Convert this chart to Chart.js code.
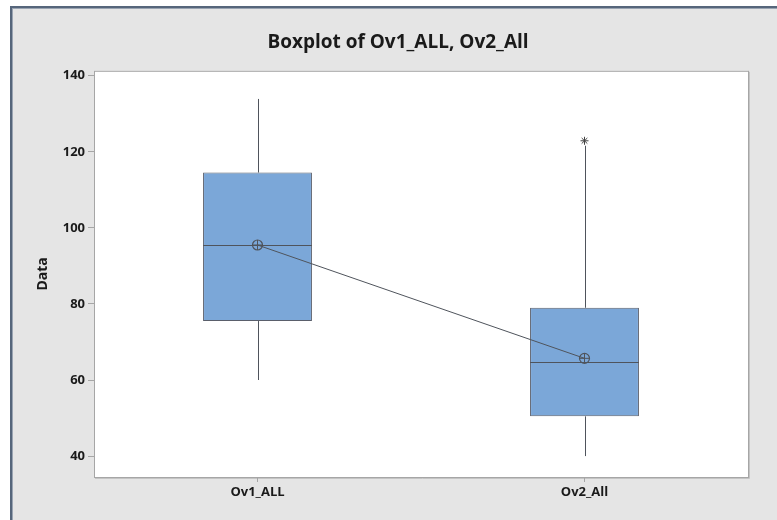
<!DOCTYPE html>
<html>
<head>
<meta charset="utf-8">
<script src="https://cdn.jsdelivr.net/npm/chart.js@4"></script>
<style>
html,body{margin:0;padding:0;background:#ffffff;overflow:hidden;width:777px;height:520px;}
#frame{position:absolute;left:10px;top:6px;width:780px;height:520px;border-left:2px solid #56667b;border-top:2px solid #56667b;}
#inner{position:absolute;left:0;top:0;width:778px;height:518px;border-left:1px solid #9aa4b2;border-top:1px solid #9aa4b2;background:#e5e5e5;}
#c{position:absolute;left:0;top:0;}
</style>
</head>
<body>
<div id="frame"><div id="inner"><canvas id="c" width="770" height="511"></canvas></div></div>
<script>
const categories = ['Ov1_ALL', 'Ov2_All'];
const whiskerLow = [60.0, 40.0];
const q1 = [75.5, 50.45];
const median = [95.5, 64.7];
const q3 = [114.55, 79.0];
const whiskerHigh = [133.9, 121.6];
const means = [95.5, 65.7];
const outliers = [null, 122.9];
const yTicks = [40, 60, 80, 100, 120, 140];
const yMin = 34.5, yMax = 141.3;

const FONT = "'Open Sans', 'Noto Sans', sans-serif";
const LINE = '#4f545c';

const bgPlugin = {
  id: 'bg',
  beforeDraw(chart) {
    const {ctx, chartArea: a} = chart;
    ctx.save();
    ctx.fillStyle = '#e5e5e5';
    ctx.fillRect(0, 0, chart.width, chart.height);
    ctx.fillStyle = '#ffffff';
    ctx.fillRect(a.left, a.top, a.right - a.left, a.bottom - a.top);
    ctx.strokeStyle = '#c4c4c4';
    ctx.lineWidth = 1;
    ctx.beginPath();
    ctx.moveTo(a.right + 1.5, a.top + 1);
    ctx.lineTo(a.right + 1.5, a.bottom + 1.5);
    ctx.lineTo(a.left + 1, a.bottom + 1.5);
    ctx.stroke();
    ctx.strokeStyle = '#a6a6a6';
    ctx.strokeRect(a.left + 0.5, a.top + 0.5, a.right - a.left, a.bottom - a.top);
    ctx.restore();
  }
};

const boxParts = {
  id: 'boxParts',
  afterDatasetDraw(chart, args) {
    if (args.index !== 0) return;
    const {ctx, scales: {x, y}} = chart;
    const meta = chart.getDatasetMeta(0);
    ctx.save();
    ctx.strokeStyle = LINE;
    ctx.lineWidth = 1;
    categories.forEach((c, i) => {
      const bar = meta.data[i];
      const cx = Math.round(x.getPixelForValue(i)) + 0.5;
      const half = bar.width / 2;
      const ym = Math.round(y.getPixelForValue(median[i])) + 0.5;
      ctx.beginPath();
      ctx.moveTo(bar.x - half, ym);
      ctx.lineTo(bar.x + half, ym);
      ctx.moveTo(cx, y.getPixelForValue(q3[i]));
      ctx.lineTo(cx, y.getPixelForValue(whiskerHigh[i]));
      ctx.moveTo(cx, y.getPixelForValue(q1[i]));
      ctx.lineTo(cx, y.getPixelForValue(whiskerLow[i]));
      ctx.stroke();
    });
    ctx.restore();
  }
};

new Chart(document.getElementById('c'), {
  type: 'bar',
  data: {
    labels: categories,
    datasets: [
      {
        type: 'bar',
        label: 'box',
        data: categories.map((c, i) => [q1[i], q3[i]]),
        backgroundColor: '#7ba7d8',
        borderColor: '#5a5f6b',
        borderWidth: 1,
        borderSkipped: false,
        categoryPercentage: 1.0,
        barPercentage: 0.333,
        order: 3
      },
      {
        type: 'line',
        label: 'mean',
        data: means,
        borderColor: LINE,
        borderWidth: 1,
        pointStyle: 'circle',
        pointRadius: 5,
        pointBackgroundColor: 'rgba(0,0,0,0)',
        pointBorderColor: LINE,
        pointBorderWidth: 1.2,
        fill: false,
        order: 1
      },
      {
        type: 'line',
        label: 'meanCross',
        data: means,
        showLine: false,
        pointStyle: 'cross',
        pointRadius: 5,
        pointBorderColor: LINE,
        pointBorderWidth: 1,
        order: 0
      },
      {
        type: 'line',
        label: 'outlier',
        data: outliers,
        showLine: false,
        pointStyle: 'star',
        pointRadius: 4,
        pointBorderColor: '#444',
        pointBorderWidth: 1,
        order: 0
      }
    ]
  },
  options: {
    responsive: false,
    animation: false,
    events: [],
    layout: {padding: 0},
    plugins: {
      legend: {display: false},
      tooltip: {enabled: false},
      title: {
        display: true,
        text: 'Boxplot of Ov1_ALL, Ov2_All',
        color: '#1a1a1a',
        font: {family: FONT, size: 19, weight: 'bold'},
        padding: {top: 22, bottom: 17}
      }
    },
    scales: {
      x: {
        type: 'category',
        offset: true,
        grid: {display: true, offset: false, drawOnChartArea: false, drawTicks: true, tickLength: 5, tickColor: '#a6a6a6'},
        border: {display: false},
        ticks: {color: '#1a1a1a', font: {family: FONT, size: 13, weight: 'bold'}, padding: 2, maxRotation: 0},
        afterFit(s) { s.height = 43; }
      },
      y: {
        type: 'linear',
        position: 'left',
        min: yMin,
        max: yMax,
        afterBuildTicks(s) { s.ticks = yTicks.map(v => ({value: v})); },
        grid: {display: true, drawOnChartArea: false, drawTicks: true, tickLength: 6, tickColor: '#a6a6a6'},
        border: {display: false},
        ticks: {color: '#1a1a1a', font: {family: FONT, size: 13, weight: 'bold'}, padding: 3},
        title: {display: true, text: 'Data', color: '#1a1a1a', font: {family: FONT, size: 14, weight: 'bold'}, padding: {top: 22, bottom: 0}},
        afterFit(s) { s.width = 81; }
      },
      yRightSpace: {
        type: 'linear',
        position: 'right',
        display: true,
        grid: {display: false},
        border: {display: false},
        ticks: {display: false},
        afterFit(s) { s.width = 35; }
      }
    }
  },
  plugins: [bgPlugin, boxParts]
});
</script>
</body>
</html>
